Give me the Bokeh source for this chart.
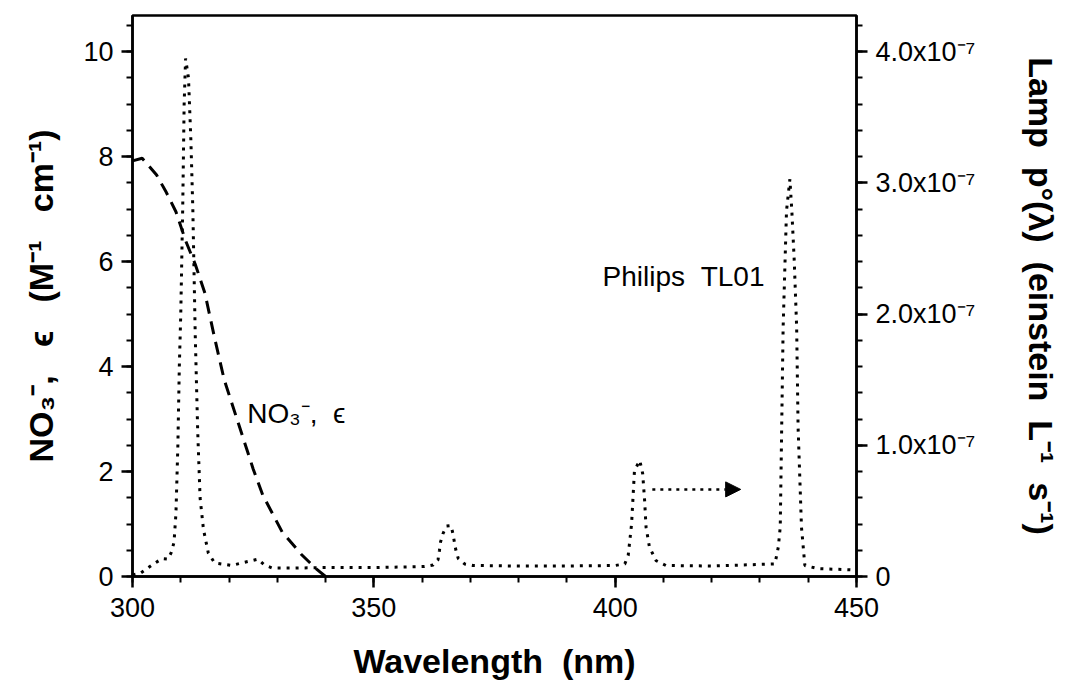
from bokeh.plotting import figure
from bokeh.models import (Range1d, LinearAxis, FixedTicker, CustomJSTickFormatter,
                          Label, Arrow, NormalHead)
from bokeh.embed import file_html
from bokeh.resources import INLINE

# ---- data ----
# nitrate molar absorption coefficient (M^-1 cm^-1)
no3_wl = [300, 302, 305, 307, 309, 311, 313, 315, 317, 319, 322, 325, 327, 331, 335, 338, 340]
no3_eps = [7.92, 7.97, 7.65, 7.32, 6.95, 6.40, 5.95, 5.40, 4.55, 3.75, 2.90, 2.05, 1.55, 0.85, 0.42, 0.15, 0.0]

# Philips TL01 lamp photon flux (einstein L^-1 s^-1), in units of 1e-7
lamp_wl = [300.0, 301.6, 304.4, 306.1, 307.3, 308.0, 308.6, 309.0, 309.4, 309.7, 310.0, 310.4,
           310.7, 311.0, 311.6, 312.1, 312.5, 313.0, 313.5, 314.0, 314.7, 315.7, 317.0, 320.5,
           323.2, 326.0, 327.3, 329.0, 333.0, 340.0, 350.0, 360.5, 362.3, 363.3, 363.6, 363.8,
           364.3, 365.0, 366.0, 366.4, 366.7, 367.0, 367.5, 368.8, 370.5, 380.0, 390.0, 400.0,
           402.0, 402.7, 403.4, 403.7, 404.0, 405.1, 405.7, 406.1, 406.4, 407.1, 408.5, 410.5,
           420.0, 433.1, 433.8, 434.2, 434.5, 434.8, 435.2, 435.5, 436.2, 436.6, 437.1, 437.6,
           437.9, 438.6, 439.3, 442.0, 448.2, 450.0]
lamp_e7 = [0.012, 0.024, 0.096, 0.136, 0.132, 0.18, 0.26, 0.48, 1.0, 1.6, 2.0, 2.8,
           3.6, 3.948, 3.8, 3.32, 2.8, 1.84, 1.12, 0.6, 0.36, 0.18, 0.104, 0.084,
           0.108, 0.132, 0.088, 0.064, 0.064, 0.068, 0.068, 0.076, 0.088, 0.128, 0.2, 0.26,
           0.324, 0.384, 0.388, 0.324, 0.26, 0.2, 0.136, 0.096, 0.084, 0.08, 0.08, 0.084,
           0.096, 0.16, 0.4, 0.604, 0.808, 0.884, 0.784, 0.58, 0.376, 0.224, 0.12, 0.084,
           0.08, 0.096, 0.224, 0.376, 1.136, 1.9, 2.408, 2.788, 3.028, 2.788, 2.408, 1.9,
           1.136, 0.376, 0.084, 0.06, 0.052, 0.048]
lamp = [v * 1e-7 for v in lamp_e7]

NB = "\u00a0"  # wide gaps as in the original typesetting

# annotations
lamp_label = "Philips" + NB + NB + "TL01"
lamp_label_pos = (397.4, 5.72)
no3_label = "NO\u2083\u207b," + NB + NB + "\u03f5"
no3_label_pos = (323.8, 3.10)
arrow_from = (407.7, 1.66)
arrow_to = (426.0, 1.66)

x_ticks = [300, 350, 400, 450]
y_ticks = [0, 2, 4, 6, 8, 10]
y2_ticks = [0, 1e-7, 2e-7, 3e-7, 4e-7]

G = NB * 3
x_title = "Wavelength" + NB + NB + "(nm)"
y_title = "NO\u2083\u207b," + G + "\u03f5" + G + "(M\u207b\u00b9" + G + "cm\u207b\u00b9)"
y2_title = "Lamp" + NB + NB + "p\u00b0(\u03bb)" + NB + NB + "(einstein" + NB + NB + "L\u207b\u00b9" + NB + NB + "s\u207b\u00b9)"

# ---- figure ----
FONT = "Liberation Sans"
p = figure(width=1063, height=690, output_backend="svg", toolbar_location=None,
           x_range=Range1d(300, 450), y_range=Range1d(0, 10.69),
           min_border_left=132, min_border_right=201, min_border_top=15, min_border_bottom=114)
p.extra_y_ranges = {"lamp": Range1d(0, 10.69 * 4e-8)}
p.grid.visible = False
p.outline_line_color = "black"
p.outline_line_width = 2.5
p.background_fill_color = "white"
p.border_fill_color = "white"

def style_axis(ax):
    ax.axis_line_width = 2.5
    ax.axis_line_color = "black"
    ax.major_tick_line_width = 2.5
    ax.minor_tick_line_width = 2
    ax.major_tick_out = 11
    ax.major_tick_in = 0
    ax.minor_tick_out = 6
    ax.minor_tick_in = 0
    ax.major_label_text_font = FONT
    ax.major_label_text_font_size = "27px"
    ax.major_label_text_color = "black"
    ax.axis_label_text_font = FONT
    ax.axis_label_text_font_size = "34px"
    ax.axis_label_text_font_style = "bold"
    ax.axis_label_text_color = "black"

xa = p.xaxis[0]
style_axis(xa)
xa.ticker = FixedTicker(ticks=x_ticks, minor_ticks=list(range(300, 451, 10)))
xa.axis_label = x_title
xa.major_label_standoff = 10
xa.axis_label_standoff = 22

ya = p.yaxis[0]
style_axis(ya)
ya.ticker = FixedTicker(ticks=y_ticks, minor_ticks=[i * 0.5 for i in range(0, 22)])
ya.axis_label = y_title
ya.major_label_standoff = 8
ya.axis_label_standoff = 20

ya2 = LinearAxis(y_range_name="lamp", axis_label=y2_title)
style_axis(ya2)
ya2.ticker = FixedTicker(ticks=y2_ticks, minor_ticks=[i * 0.2e-7 for i in range(0, 22)])
ya2.formatter = CustomJSTickFormatter(code="""
if (Math.abs(tick) < 1e-12) { return "0"; }
return (tick / 1e-7).toFixed(1) + "x10\u207b\u2077";
""")
ya2.major_label_standoff = 8
ya2.axis_label_standoff = 44
p.add_layout(ya2, "right")

# ---- data glyphs ----
p.line(no3_wl, no3_eps, line_color="black", line_width=3, line_dash="13 8")
p.line(lamp_wl, lamp, y_range_name="lamp", line_color="black", line_width=3, line_dash="3 6")

# ---- annotations ----
p.add_layout(Label(x=lamp_label_pos[0], y=lamp_label_pos[1], text=lamp_label,
                   text_font=FONT, text_font_size="28px", text_baseline="middle",
                   text_color="black"))
p.add_layout(Label(x=no3_label_pos[0], y=no3_label_pos[1], text=no3_label,
                   text_font=FONT, text_font_size="28px", text_baseline="middle",
                   text_color="black"))
p.add_layout(Arrow(x_start=arrow_from[0], y_start=arrow_from[1], x_end=arrow_to[0], y_end=arrow_to[1],
                   line_color="black", line_width=2.5, line_dash="3 5",
                   end=NormalHead(size=15, fill_color="black", line_color="black", line_width=1)))

open("out.html", "w").write(file_html(p, INLINE))
